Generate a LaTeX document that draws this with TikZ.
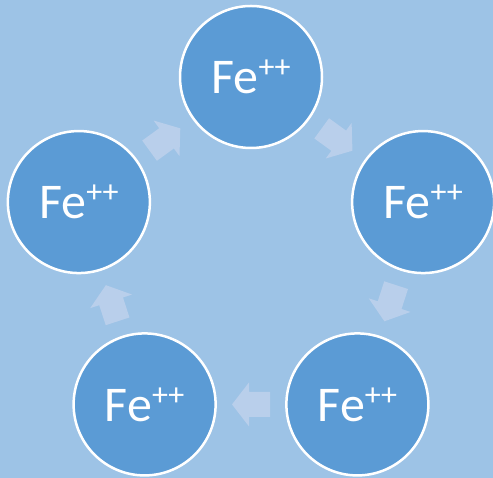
\documentclass[tikz,border=0pt]{standalone}
\usepackage{fontspec}
\setmainfont{Carlito}
\usetikzlibrary{calc}
\definecolor{bgblue}{RGB}{157,195,230}
\definecolor{ionblue}{RGB}{91,155,213}
\definecolor{arrowblue}{RGB}{185,207,235}
\tikzset{
  ion/.style={circle, draw=white, line width=2.5pt, fill=ionblue, minimum size=142pt, inner sep=0pt, text=white, font=\fontsize{50}{50}\selectfont},
  cyclearrow/.style={fill=arrowblue, draw=none}
}
\newcommand{\feion}{Fe\raisebox{16pt}{\fontsize{32}{32}\selectfont ++}}
\newcommand{\cyclearrowat}[2]{%
  \fill[cyclearrow, shift={(#1)}, rotate=#2]
    (-19pt,-12.5pt) -- (2pt,-12.5pt) -- (2pt,-22pt) -- (19pt,0pt)
    -- (2pt,22pt) -- (2pt,12.5pt) -- (-19pt,12.5pt) -- cycle;}
\begin{document}
\begin{tikzpicture}[x=1pt,y=1pt]
  \fill[bgblue] (0,0) rectangle (493,478);
  \useasboundingbox (0,0) rectangle (493,478);
  \coordinate (o) at (251,220);
  \node[ion] (c1) at ($(o)+(90:181)$) {\feion};
  \node[ion] (c2) at ($(o)+(18:181)$) {\feion};
  \node[ion] (c3) at ($(o)+(-54:181)$) {\feion};
  \node[ion] (c4) at ($(o)+(-126:181)$) {\feion};
  \node[ion] (c5) at ($(o)+(162:181)$) {\feion};
  \cyclearrowat{$(c1)!0.5!(c2)$}{-36}
  \cyclearrowat{$(c2)!0.5!(c3)$}{-108}
  \cyclearrowat{$(c3)!0.5!(c4)$}{-180}
  \cyclearrowat{$(c4)!0.5!(c5)$}{108}
  \cyclearrowat{$(c5)!0.5!(c1)$}{36}
\end{tikzpicture}
\end{document}
